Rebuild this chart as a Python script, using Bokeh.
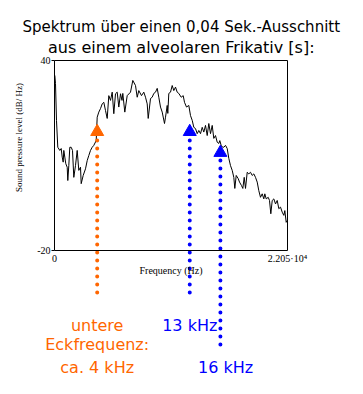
import numpy as np
from bokeh.plotting import figure
from bokeh.models import Range1d, LinearAxis, FixedTicker
from bokeh.embed import file_html
from bokeh.resources import INLINE
from bokeh.core.properties import value

# ---- data ----
freq_hz = [30, 95, 189, 312, 502, 634, 729, 823, 880, 975,
           1069, 1202, 1259, 1353, 1448, 1580, 1704, 1827, 1987, 2148,
           2300, 2461, 2527, 2716, 2934, 3095, 3246, 3407, 3568, 3719,
           3946, 4041, 4193, 4353, 4514, 4666, 4827, 4988, 5139, 5300,
           5461, 5612, 5773, 5934, 6085, 6246, 6388, 6464, 6653, 6880,
           7193, 7410, 7666, 7827, 7978, 8234, 8451, 8612, 8773, 8868,
           9085, 9246, 9398, 9559, 9720, 9871, 10032, 10193, 10410, 10505,
           10666, 10723, 10817, 10978, 11139, 11291, 11451, 11612, 11764, 11991,
           12180, 12303, 12492, 12710, 12871, 13032, 13183, 13344, 13505, 13657,
           13817, 13978, 14130, 14291, 14452, 14603, 14764, 14925, 15076, 15237,
           15398, 15549, 15644, 15805, 16022, 16183, 16344, 16496, 16657, 16818,
           16969, 17064, 17196, 17386, 17509, 17698, 17821, 17953, 18076, 18237,
           18389, 18549, 18710, 18862, 19023, 19184, 19335, 19496, 19657, 19808,
           19903, 20035, 20225, 20348, 20471, 20604, 20755, 20916, 21077, 21228,
           21389, 21550, 21701, 21796, 21928, 22023]
level_db = [35.3, 32.7, 21.1, 12.6, 11.6, 12.2, 9.5, 7.9, 11.6, 9.5,
            7.4, 6.3, 2.1, 6.8, 12.6, 12.6, 11.6, 3.1, 6.8, 11.6,
            5.3, 6.3, 1.1, 3.7, 5.8, 8.4, 10.0, 11.6, 12.6, 13.2,
            14.7, 22.1, 23.7, 24.8, 26.3, 26.8, 24.2, 21.7, 28.9, 27.4,
            30.0, 23.2, 29.5, 30.0, 25.3, 29.5, 27.4, 29.6, 23.7, 28.9,
            30.0, 33.7, 32.1, 28.4, 30.5, 28.9, 30.0, 28.4, 26.3, 21.7,
            28.0, 28.4, 29.6, 30.0, 31.2, 28.4, 25.3, 23.7, 20.1, 22.1,
            25.8, 23.3, 29.6, 30.0, 32.1, 30.5, 31.6, 30.0, 29.6, 28.4,
            28.9, 26.8, 25.3, 25.8, 22.6, 21.1, 18.9, 18.5, 16.9, 17.9,
            16.9, 18.9, 17.4, 19.5, 16.3, 20.1, 16.9, 19.5, 15.4, 16.3,
            14.2, 13.8, 14.7, 12.8, 12.6, 13.2, 12.2, 9.1, 6.8, 5.3,
            3.1, -0.4, 3.7, 2.7, 1.6, 0.5, -0.4, 3.1, -0.4, 4.7,
            4.2, 4.7, 3.7, 4.2, 3.1, 1.6, -1.1, -3.2, -2.1, -3.7,
            -2.1, -3.7, -3.2, -4.2, -8.4, -4.2, -3.7, -5.3, -4.2, -6.8,
            -6.3, -7.9, -8.9, -7.4, -11.1, -10.5]

edge_freqs = [4040, 12800, 15700]
edge_levels = [17.5, 17.5, 10.9]
edge_colors = ["#ff6600", "#0000ff", "#0000ff"]

x_ticks = [0, 22050]
x_tick_labels = ["0", "2.205·10⁴"]
y_ticks = [-20, 40]
y_tick_labels = ["-20", "40"]

title_lines = ["Spektrum über einen 0,04 Sek.-Ausschnitt",
               "aus einem alveolaren Frikativ [s]:"]
x_label = "Frequency (Hz)"
y_label = "Sound pressure level (dB/ Hz)"
orange_lines = ["untere", "Eckfrequenz:", "ca. 4 kHz"]
blue_labels = ["13 kHz", "16 kHz"]

# ---- layout (canvas pixels) ----
W, H = 355, 384
BOX_L, BOX_R, BOX_T, BOX_B = 54, 287, 60, 250
X0, X1 = 0, 22050
Y0, Y1 = -20, 40

def fx(cx):
    return X0 + (cx - BOX_L) / (BOX_R - BOX_L) * (X1 - X0)

def fy(cy):
    return Y1 - (cy - BOX_T) / (BOX_B - BOX_T) * (Y1 - Y0)

p = figure(width=W, height=H,
           x_range=Range1d(fx(0), fx(W)), y_range=Range1d(fy(H), fy(0)),
           x_axis_type=None, y_axis_type=None,
           output_backend="svg", toolbar_location=None,
           min_border=0, outline_line_color=None,
           background_fill_color="white", border_fill_color="white")

serif = "Liberation Serif"

def style(ax):
    ax.minor_tick_line_color = None
    ax.axis_line_color = "black"
    ax.axis_line_width = 1
    ax.major_tick_line_color = "black"
    ax.major_label_text_font = serif
    ax.major_label_text_font_size = "10px"
    ax.major_label_text_color = "black"

left = LinearAxis(fixed_location=X0, bounds=(Y0, Y1),
                  ticker=FixedTicker(ticks=y_ticks),
                  major_label_overrides={t: l for t, l in zip(y_ticks, y_tick_labels)})
style(left)
left.major_tick_in = 0
left.major_tick_out = 3
left.major_label_standoff = 1
p.add_layout(left, "left")

bottom = LinearAxis(fixed_location=Y0, bounds=(X0, X1),
                    ticker=FixedTicker(ticks=x_ticks),
                    major_label_overrides={t: l for t, l in zip(x_ticks, x_tick_labels)})
style(bottom)
bottom.major_tick_in = 0
bottom.major_tick_out = 0
bottom.major_label_standoff = 2
p.add_layout(bottom, "below")

top = LinearAxis(fixed_location=Y1, bounds=(X0, X1), ticker=FixedTicker(ticks=[]))
style(top)
top.major_label_text_font_size = "0px"
p.add_layout(top, "above")

right = LinearAxis(fixed_location=X1, bounds=(Y0, Y1), ticker=FixedTicker(ticks=[]))
style(right)
right.major_label_text_font_size = "0px"
p.add_layout(right, "right")

# spectrum
p.line(freq_hz, level_db, line_color="black", line_width=1)

# dotted guide lines
line_top = [fy(140), fy(140), fy(160)]
line_bot = [fy(294), fy(294), fy(347)]
p.segment(x0=edge_freqs, y0=line_top, x1=edge_freqs, y1=line_bot,
          line_color=edge_colors, line_width=4, line_dash="0 8", line_cap="round")

# triangles
p.scatter(edge_freqs, edge_levels, marker="triangle", size=13,
          fill_color=edge_colors, line_color=edge_colors)

sans = value("DejaVu Sans")
# title
p.text(x=[fx(180.8)], y=[fy(26)], text=[title_lines[0]], text_font=sans,
       text_font_size="15px", text_align="center", text_baseline="alphabetic", text_color="black")
p.text(x=[fx(180.8)], y=[fy(46.5)], text=[title_lines[1]], text_font=sans,
       text_font_size="16px", text_align="center", text_baseline="alphabetic", text_color="black")

# axis labels
p.text(x=[(X0 + X1) / 2], y=[fy(270)], text=[x_label], text_font=value(serif),
       text_font_size="10px", text_align="center", text_baseline="middle", text_color="black")
p.text(x=[fx(18)], y=[fy(137)], text=[y_label], text_font=value(serif),
       text_font_size="9px", text_align="center", text_baseline="middle",
       angle=np.pi / 2, text_color="black")

# orange annotation
p.text(x=[edge_freqs[0]] * 3, y=[fy(325), fy(344), fy(367)], text=orange_lines,
       text_font=sans, text_font_size="16px", text_align="center",
       text_baseline="alphabetic", text_color="#ff6600")
# blue annotations
p.text(x=[edge_freqs[1], edge_freqs[2] + 500], y=[fy(325), fy(367)], text=blue_labels,
       text_font=sans, text_font_size="16px", text_align="center",
       text_baseline="alphabetic", text_color="#0000ff")

open("out.html", "w").write(file_html(p, INLINE))
